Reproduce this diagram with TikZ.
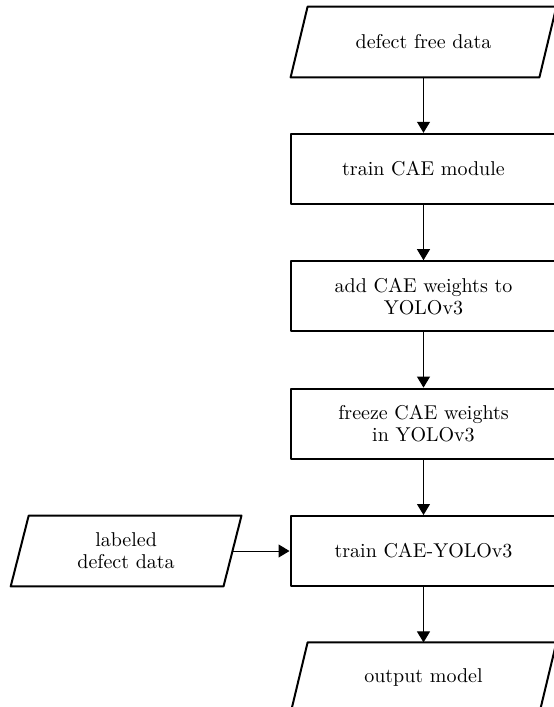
\documentclass[tikz,border=0pt]{standalone}
\usetikzlibrary{arrows.meta}
\usetikzlibrary{positioning}
\tikzset{
  procbox/.style={draw, line width=1pt, rectangle, minimum width=133pt, minimum height=35pt,
    align=center, inner sep=2pt, font=\fontsize{10}{11}\selectfont},
  iobox/.style={rectangle, minimum width=124pt, minimum height=35pt,
    align=center, inner sep=2pt, font=\fontsize{10}{11}\selectfont},
  iooutline/.style={line width=1pt},
  flowline/.style={line width=0.5pt, -{Triangle[length=5.5pt, width=6.5pt]}}
}
\begin{document}
\begin{tikzpicture}[line cap=round, line join=round, node distance=27.7pt]
\useasboundingbox (0,0) rectangle (276.5pt,-353.5pt);
\node [iobox] (freedata) at (211.75pt,-21pt) {defect free data};
\node [procbox, below=of freedata] (traincae) {train CAE module};
\node [procbox, below=of traincae] (addweights) {add CAE weights to\\YOLOv3};
\node [procbox, below=of addweights] (freeze) {freeze CAE weights\\in YOLOv3};
\node [procbox, below=of freeze] (trainyolo) {train CAE-YOLOv3};
\node [iobox, below=of trainyolo] (outmodel) {output model};
\node [iobox, minimum width=106pt, left=28.5pt of trainyolo] (labeled) {labeled\\defect data};
% slanted outlines of the data boxes
\foreach \n/\s in {freedata/4.25pt, outmodel/4.25pt, labeled/4.5pt}
  \draw [iooutline] ([xshift=-\s]\n.south west) -- ([xshift=-\s]\n.south east)
    -- ([xshift=\s]\n.north east) -- ([xshift=\s]\n.north west) -- cycle;
\draw [flowline] (freedata) -- (traincae);
\draw [flowline] (traincae) -- (addweights);
\draw [flowline] (addweights) -- (freeze);
\draw [flowline] (freeze) -- (trainyolo);
\draw [flowline] (trainyolo) -- (outmodel);
\draw [flowline] (labeled) -- (trainyolo);
\end{tikzpicture}
\end{document}
